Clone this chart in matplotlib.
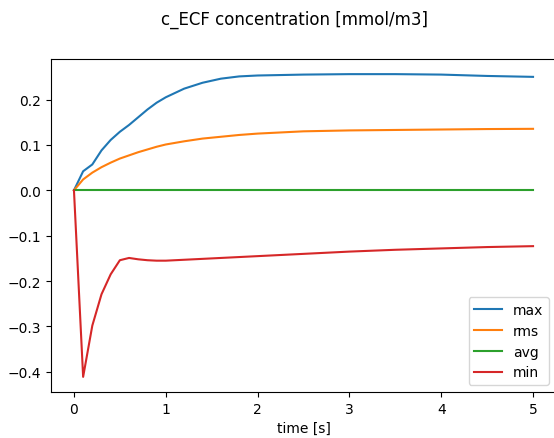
import matplotlib
matplotlib.use("Agg")
import matplotlib.pyplot as plt

# time points [s]
t = [0.0, 0.1, 0.2, 0.3, 0.4, 0.5, 0.6, 0.7, 0.8, 0.9, 1.0,
     1.2, 1.4, 1.6, 1.8, 2.0, 2.5, 3.0, 3.5, 4.0, 4.5, 5.0]

c_max = [0.0, 0.042, 0.057, 0.088, 0.111, 0.129, 0.144, 0.161, 0.178, 0.193, 0.205,
         0.224, 0.237, 0.246, 0.251, 0.253, 0.255, 0.256, 0.256, 0.255, 0.252, 0.250]
c_rms = [0.0, 0.024, 0.039, 0.051, 0.061, 0.070, 0.077, 0.084, 0.090, 0.096, 0.101,
         0.108, 0.114, 0.118, 0.122, 0.125, 0.130, 0.132, 0.133, 0.134, 0.135, 0.1355]
c_avg = [0.0] * len(t)
c_min = [0.0, -0.411, -0.298, -0.229, -0.185, -0.154, -0.149, -0.152, -0.154, -0.155, -0.155,
         -0.153, -0.151, -0.149, -0.147, -0.145, -0.140, -0.135, -0.131, -0.128, -0.125, -0.123]

fig = plt.figure(figsize=(5.54, 4.39), dpi=100)
ax = fig.add_axes([51 / 554, 46 / 439, 505 / 554, 333 / 439])

ax.plot(t, c_max, label="max")
ax.plot(t, c_rms, label="rms")
ax.plot(t, c_avg, label="avg")
ax.plot(t, c_min, label="min")

ax.set_xlabel("time [s]")
ax.legend(loc="lower right")
# original figure was cropped on the right, so title sits right of centre
fig.suptitle("c_ECF concentration [mmol/m3]", x=0.532, y=0.975, fontsize=12)

fig.savefig("out.png", dpi=100)
